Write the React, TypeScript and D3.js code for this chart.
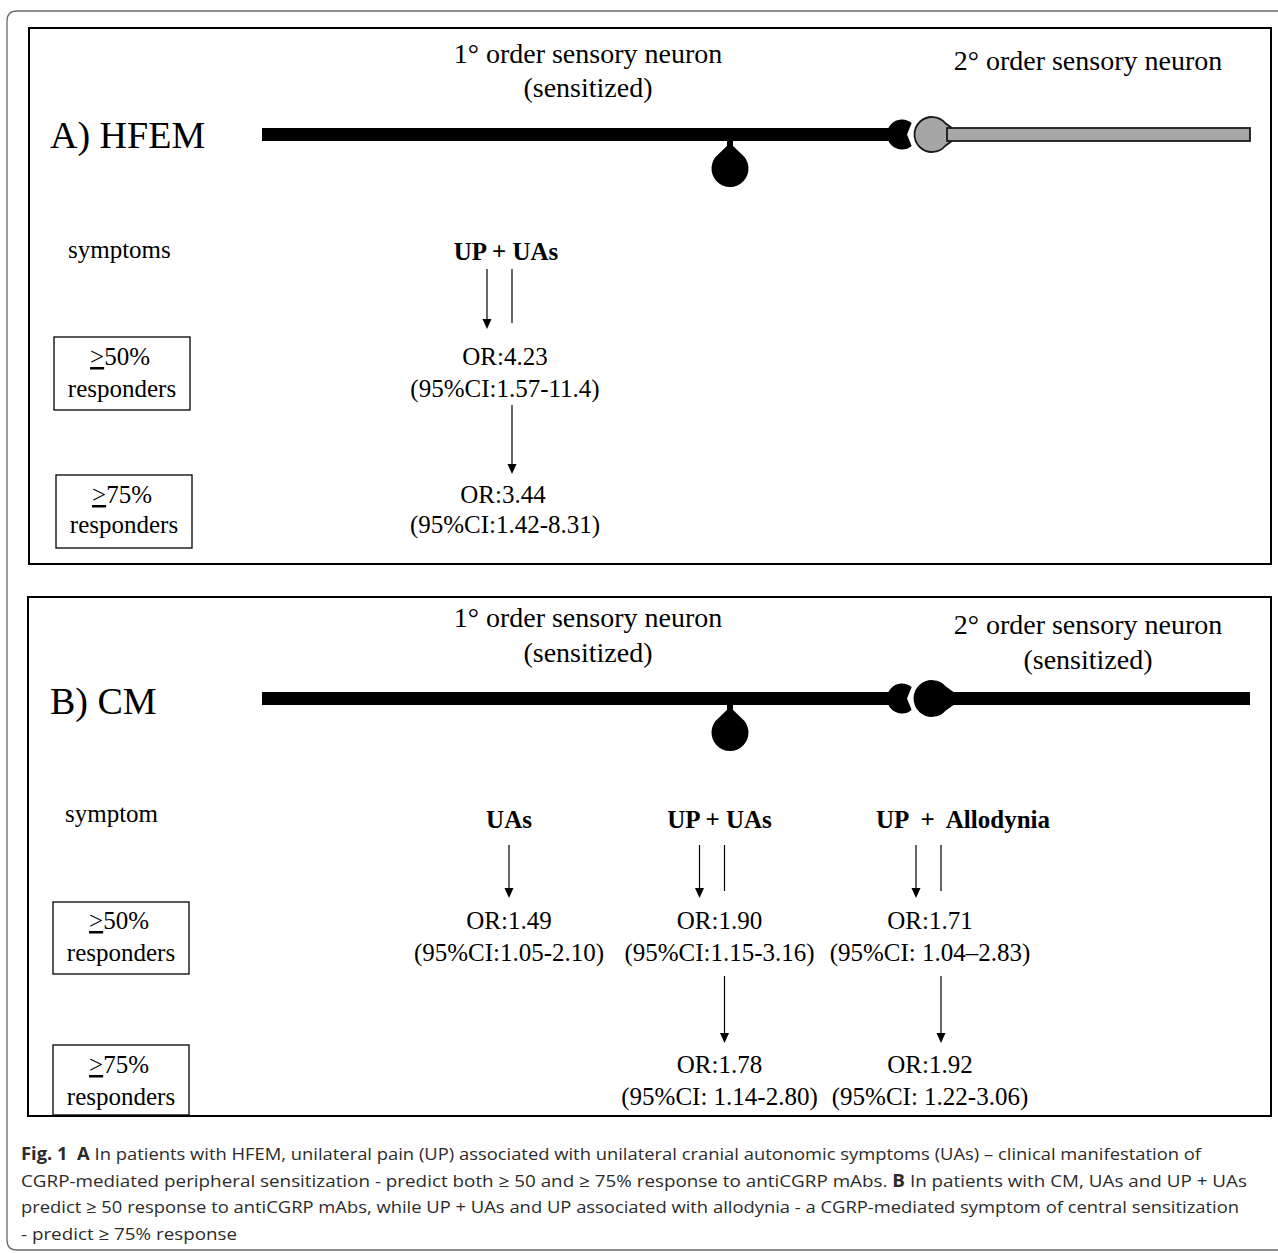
import React from "react";
import * as d3 from "d3";

// ---------- data ----------
const panelTitles = ["A) HFEM", "B) CM"];
const firstNeuronLabel = ["1° order sensory neuron", "(sensitized)"];
const secondNeuronLabelA = ["2° order sensory neuron"];
const secondNeuronLabelB = ["2° order sensory neuron", "(sensitized)"];
const symptomRowLabels = ["symptoms", "symptom"];
const responderThresholds = ["50%", "75%"];

const hfemSymptoms = [["UP", "UAs"]];
const hfemOR50 = ["OR:4.23"];
const hfemCI50 = ["(95%CI:1.57-11.4)"];
const hfemOR75 = ["OR:3.44"];
const hfemCI75 = ["(95%CI:1.42-8.31)"];

const cmSymptoms = [["UAs"], ["UP", "UAs"], ["UP", "Allodynia"]];
const cmSymptomText = ["UAs", "UP + UAs", "UP  +  Allodynia"];
const cmOR50 = ["OR:1.49", "OR:1.90", "OR:1.71"];
const cmCI50 = ["(95%CI:1.05-2.10)", "(95%CI:1.15-3.16)", "(95%CI: 1.04–2.83)"];
const cmOR75 = [null, "OR:1.78", "OR:1.92"];
const cmCI75 = [null, "(95%CI: 1.14-2.80)", "(95%CI: 1.22-3.06)"];

const captionLines = [
  [["Fig. 1", true], ["  ", false], ["A", true], [" In patients with HFEM, unilateral pain (UP) associated with unilateral cranial autonomic symptoms (UAs) – clinical manifestation of", false]],
  [["CGRP-mediated peripheral sensitization - predict both ≥ 50 and ≥ 75% response to antiCGRP mAbs. ", false], ["B", true], [" In patients with CM, UAs and UP + UAs", false]],
  [["predict ≥ 50 response to antiCGRP mAbs, while UP + UAs and UP associated with allodynia - a CGRP-mediated symptom of central sensitization", false]],
  [["- predict ≥ 75% response", false]],
];
const captionWidths = [1180, 1226, 1218, 216];

// ---------- style ----------
const SERIF = "'Liberation Serif', 'Times New Roman', serif";
const SANS = "'Open Sans', 'Noto Sans', sans-serif";
const W = 1278;
const H = 1253;

function Arrow({ x, y1, y2, head }: { x: number; y1: number; y2: number; head: boolean }) {
  const hl = 10;
  const hw = 4.5;
  return (
    <g>
      <line x1={x} x2={x} y1={y1} y2={head ? y2 - hl + 1 : y2} stroke="#000" strokeWidth={1.2} />
      {head && (
        <path d={`M${x - hw},${y2 - hl} L${x + hw},${y2 - hl} L${x},${y2} Z`} fill="#000" />
      )}
    </g>
  );
}

function Neuron({ y, sensitized2 }: { y: number; sensitized2: boolean }) {
  const axX = d3.scaleLinear().domain([0, 1]).range([262, 1250]);
  const th = 13;
  const somaX = 730;
  const somaR = 18.5;
  const somaCy = y + 34;
  const termCx = 902;
  const termR = 15;
  const a = (50 * Math.PI) / 180;
  const postCx = 932;
  const postR = 17.5;
  const fill2 = sensitized2 ? "#000" : "#a6a6a6";
  const stroke2 = sensitized2 ? "#000" : "#1a1a1a";
  const th2 = sensitized2 ? 13 : 13;
  const apexY = somaCy - somaR - 7;
  const t = (38 * Math.PI) / 180;
  return (
    <g>
      {/* axon of first neuron */}
      <rect x={axX(0)} y={y - th / 2} width={termCx - axX(0)} height={th} fill="#000" />
      {/* soma stalk and drop */}
      <rect x={somaX - 3} y={y} width={6} height={apexY - y + 3} fill="#000" />
      <path
        d={`M${somaX},${apexY} L${somaX + somaR * Math.sin(t)},${somaCy - somaR * Math.cos(t)} A${somaR},${somaR} 0 1 1 ${somaX - somaR * Math.sin(t)},${somaCy - somaR * Math.cos(t)} Z`}
        fill="#000"
      />
      {/* presynaptic terminal with notch */}
      <path
        d={`M${termCx + termR * Math.cos(a)},${y - termR * Math.sin(a)} A${termR},${termR} 0 1 0 ${termCx + termR * Math.cos(a)},${y + termR * Math.sin(a)} L${termCx + 5},${y} Z`}
        fill="#000"
      />
      {/* second-order neuron */}
      <path
        d={`M${postCx + 22},${y - 5} L${postCx + postR * Math.cos(0.7)},${y - postR * Math.sin(0.7)} A${postR},${postR} 0 1 0 ${postCx + postR * Math.cos(0.7)},${y + postR * Math.sin(0.7)} L${postCx + 22},${y + 5} Z`}
        fill={fill2}
        stroke={stroke2}
        strokeWidth={1.8}
      />
      <rect
        x={postCx + 15}
        y={y - th2 / 2}
        width={axX(1) - postCx - 15}
        height={th2}
        fill={fill2}
        stroke={stroke2}
        strokeWidth={sensitized2 ? 0 : 1.8}
      />
    </g>
  );
}

function ResponderBox({ x, y, w, h, pct, b1, b2 }: any) {
  return (
    <g>
      <rect x={x} y={y} width={w} height={h} fill="#fff" stroke="#000" strokeWidth={1.3} />
      <text x={x + w / 2 - 2} y={b1} textAnchor="middle" fontFamily={SERIF} fontSize={25}>
        <tspan textDecoration="underline">&gt;</tspan>
        {pct}
      </text>
      <text x={x + w / 2} y={b2} textAnchor="middle" fontFamily={SERIF} fontSize={25}>
        responders
      </text>
    </g>
  );
}

function Heading({ x, y, text }: { x: number; y: number; text: string }) {
  return (
    <text x={x} y={y} textAnchor="middle" fontFamily={SERIF} fontSize={25} fontWeight="bold" style={{ whiteSpace: "pre" }}>
      {text}
    </text>
  );
}

function Plain({ x, y, text, size = 25, anchor = "middle" }: any) {
  return (
    <text x={x} y={y} textAnchor={anchor} fontFamily={SERIF} fontSize={size} style={{ whiteSpace: "pre" }}>
      {text}
    </text>
  );
}

export default function App() {
  const colA = d3.scalePoint<string>().domain(hfemSymptoms.map((d) => d.join(" + "))).range([505, 505]);
  const colB = d3.scalePoint<string>().domain(cmSymptomText).range([509, 930]);

  return (
    <svg
      width={W}
      height={H}
      viewBox={`0 0 ${W} ${H}`}
      style={{ position: "absolute", left: 0, top: 0, background: "#fff" }}
    >
      <rect x={0} y={0} width={W} height={H} fill="#fff" />
      {/* outer rounded frame (open to the right) */}
      <path
        d={`M${W + 5},11 L17,11 Q7,11 7,21 L7,1240 Q7,1250 17,1250 L${W + 5},1250`}
        fill="none"
        stroke="#6b6b6b"
        strokeWidth={1.3}
      />

      {/* ================= Panel A ================= */}
      <rect x={29} y={28} width={1242} height={536} fill="none" stroke="#000" strokeWidth={2} />
      <Plain x={588} y={63} text={firstNeuronLabel[0]} size={28} />
      <Plain x={588} y={97} text={firstNeuronLabel[1]} size={28} />
      <Plain x={1088} y={70} text={secondNeuronLabelA[0]} size={28} />
      <Plain x={50} y={148} text={panelTitles[0]} size={38} anchor="start" />
      <Neuron y={134.5} sensitized2={false} />

      <Plain x={68} y={258} text={symptomRowLabels[0]} anchor="start" />
      {hfemSymptoms.map((s, i) => {
        const key = s.join(" + ");
        const cx = colA(key)!;
        return (
          <g key={key}>
            <Heading x={cx + 1} y={260} text={key} />
            <Arrow x={cx - 18} y1={269} y2={329} head={true} />
            <Arrow x={cx + 7} y1={269} y2={323} head={false} />
            <Plain x={cx} y={365} text={hfemOR50[i]} />
            <Plain x={cx} y={397} text={hfemCI50[i]} />
            <Arrow x={cx + 7} y1={405} y2={474} head={true} />
            <Plain x={cx - 2} y={503} text={hfemOR75[i]} />
            <Plain x={cx} y={533} text={hfemCI75[i]} />
          </g>
        );
      })}
      <ResponderBox x={54} y={337} w={136} h={73} pct={responderThresholds[0]} b1={365} b2={397} />
      <ResponderBox x={56} y={475} w={136} h={73} pct={responderThresholds[1]} b1={503} b2={533} />

      {/* ================= Panel B ================= */}
      <rect x={28} y={597} width={1243} height={519} fill="none" stroke="#000" strokeWidth={2} />
      <Plain x={588} y={627} text={firstNeuronLabel[0]} size={28} />
      <Plain x={588} y={662} text={firstNeuronLabel[1]} size={28} />
      <Plain x={1088} y={634} text={secondNeuronLabelB[0]} size={28} />
      <Plain x={1088} y={669} text={secondNeuronLabelB[1]} size={28} />
      <Plain x={50} y={714} text={panelTitles[1]} size={38} anchor="start" />
      <Neuron y={698.5} sensitized2={true} />

      <Plain x={65} y={822} text={symptomRowLabels[1]} anchor="start" />
      {cmSymptomText.map((key, i) => {
        const cx = colB(key)!;
        const combo = cmSymptoms[i].length > 1;
        const off = i === 1 ? 20 : 14;
        return (
          <g key={key}>
            <Heading x={cx + (i === 2 ? 33 : 0)} y={828} text={key} />
            {combo ? (
              <>
                <Arrow x={cx - off} y1={845} y2={898} head={true} />
                <Arrow x={cx - off + 25} y1={845} y2={891} head={false} />
              </>
            ) : (
              <Arrow x={cx} y1={845} y2={898} head={true} />
            )}
            <Plain x={cx} y={929} text={cmOR50[i]} />
            <Plain x={cx} y={961} text={cmCI50[i]} />
            {cmOR75[i] && (
              <>
                <Arrow x={cx - off + 25} y1={976} y2={1043} head={true} />
                <Plain x={cx} y={1073} text={cmOR75[i]} />
                <Plain x={cx} y={1105} text={cmCI75[i]} />
              </>
            )}
          </g>
        );
      })}
      <ResponderBox x={53} y={902} w={136} h={72} pct={responderThresholds[0]} b1={929} b2={961} />
      <ResponderBox x={53} y={1045} w={136} h={70} pct={responderThresholds[1]} b1={1073} b2={1105} />

      {/* ================= Caption ================= */}
      {captionLines.map((parts, i) => (
        <text
          key={i}
          x={21}
          y={1160 + i * 26.5}
          fontFamily={SANS}
          fontSize={17}
          fill="#2b2b2b"
          textLength={captionWidths[i]}
          lengthAdjust="spacingAndGlyphs"
          style={{ whiteSpace: "pre" }}
        >
          {parts.map(([t, b], j) => (
            <tspan key={j} fontWeight={b ? "bold" : "normal"}>
              {t as string}
            </tspan>
          ))}
        </text>
      ))}
    </svg>
  );
}
